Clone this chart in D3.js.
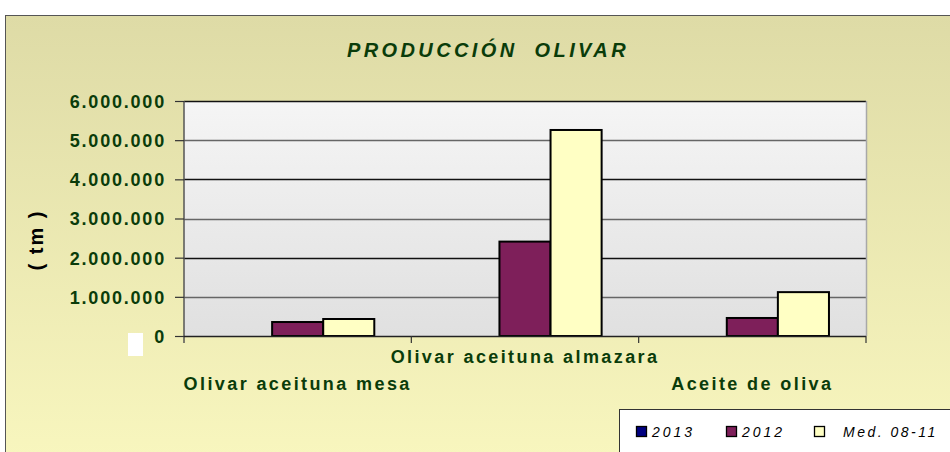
<!DOCTYPE html>
<html lang="es">
<head>
<meta charset="UTF-8">
<title>Producción olivar</title>
<style>
  body { margin: 0; background: #fff; }
  svg { display: block; font-family: "Liberation Sans", Arial, sans-serif; }
</style>
</head>
<body>
<svg width="950" height="452"></svg>
<script src="https://d3js.org/d3.v7.min.js"></script>
<script>
// datos
const categories = ["Olivar aceituna mesa", "Olivar aceituna almazara", "Aceite de oliva"];
const seriesNames = ["2013", "2012", "Med. 08-11"];
const values2013 = [null, null, null];
const values2012 = [357000, 2410000, 460000];
const valuesMed = [434000, 5260000, 1120000];
const yTicks = [0, 1000000, 2000000, 3000000, 4000000, 5000000, 6000000];
const colors = ["#000080", "#7e1f5a", "#ffffc4"];

const seriesValues = [values2013, values2012, valuesMed];
const green = "#0a3c0a";

const svg = d3.select("svg");
const defs = svg.append("defs");

const bg = defs.append("linearGradient").attr("id", "bg")
  .attr("x1", 0).attr("y1", 0).attr("x2", 0).attr("y2", 1);
bg.append("stop").attr("offset", "0%").attr("stop-color", "#dedba6");
bg.append("stop").attr("offset", "100%").attr("stop-color", "#f9f7bf");

const pg = defs.append("linearGradient").attr("id", "plotbg")
  .attr("x1", 0).attr("y1", 0).attr("x2", 0).attr("y2", 1);
pg.append("stop").attr("offset", "0%").attr("stop-color", "#f5f5f5");
pg.append("stop").attr("offset", "100%").attr("stop-color", "#e0e0e0");

// marco exterior
svg.append("rect")
  .attr("x", 5.5).attr("y", 15.5).attr("width", 960).attr("height", 460)
  .attr("fill", "url(#bg)").attr("stroke", "#555").attr("stroke-width", 1);

const plot = { left: 184, right: 866, top: 101, bottom: 336 };

const x = d3.scaleBand().domain(categories).range([plot.left, plot.right]);
const xs = d3.scaleBand().domain(seriesNames).range([0, x.bandwidth()])
  .paddingInner(0).paddingOuter(0.725);
const y = d3.scaleLinear().domain([0, 6000000]).range([plot.bottom, plot.top]);

const locale = d3.formatLocale({ decimal: ",", thousands: ".", grouping: [3], currency: ["", ""] });
const fmt = locale.format(",d");

// fondo del área
svg.append("rect")
  .attr("x", plot.left).attr("y", plot.top)
  .attr("width", plot.right - plot.left).attr("height", plot.bottom - plot.top)
  .attr("fill", "url(#plotbg)");

// rejilla
svg.append("g").selectAll("line")
  .data(yTicks.filter(d => d > 0))
  .join("line")
  .attr("x1", plot.left).attr("x2", plot.right)
  .attr("y1", d => Math.round(y(d)) + 0.5).attr("y2", d => Math.round(y(d)) + 0.5)
  .attr("stroke", (d, i) => i % 2 === 1 ? "#111" : "#666")
  .attr("stroke-width", 1.5);

// borde derecho
svg.append("line")
  .attr("x1", plot.right + 0.5).attr("x2", plot.right + 0.5)
  .attr("y1", plot.top).attr("y2", plot.bottom)
  .attr("stroke", "#a8a8a8").attr("stroke-width", 1.5);

// barras
const groups = svg.append("g").selectAll("g")
  .data(categories)
  .join("g")
  .attr("transform", d => `translate(${x(d)},0)`);

groups.selectAll("rect")
  .data((c, ci) => seriesNames.map((s, si) => ({ s, v: seriesValues[si][ci], si })))
  .join("rect")
  .filter(d => d.v != null)
  .attr("x", d => xs(d.s))
  .attr("y", d => y(d.v))
  .attr("width", xs.bandwidth())
  .attr("height", d => y(0) - y(d.v))
  .attr("fill", d => colors[d.si])
  .attr("stroke", "#000")
  .attr("stroke-width", 2);

// eje Y
const yAxis = svg.append("g")
  .attr("transform", `translate(${plot.left},0)`)
  .call(d3.axisLeft(y).tickValues(yTicks).tickFormat(fmt).tickSize(9).tickPadding(9));
yAxis.select(".domain").attr("stroke", "#555").attr("stroke-width", 1.5)
  .attr("d", `M0,${plot.top}V${plot.bottom + 7}`);
yAxis.selectAll(".tick line").attr("stroke", "#333").attr("stroke-width", 1.2);
yAxis.selectAll(".tick text")
  .attr("fill", green).attr("font-size", 18).attr("font-weight", "bold")
  .attr("dy", "0.36em")
  .style("letter-spacing", "1.8px");

// eje X
const xAxis = svg.append("g").attr("transform", `translate(0,${plot.bottom})`);
xAxis.append("line")
  .attr("x1", plot.left).attr("x2", plot.right)
  .attr("y1", 0.5).attr("y2", 0.5)
  .attr("stroke", "#222").attr("stroke-width", 1.5);
xAxis.selectAll(".xt")
  .data(categories.map(c => x(c) + x.bandwidth()))
  .join("line")
  .attr("x1", d => d).attr("x2", d => d)
  .attr("y1", 0).attr("y2", 7)
  .attr("stroke", "#333").attr("stroke-width", 1.2);

svg.append("g").selectAll("text")
  .data(categories)
  .join("text")
  .attr("x", d => x(d) + x.bandwidth() / 2)
  .attr("y", (d, i) => i % 2 === 1 ? 363 : 390)
  .attr("text-anchor", "middle")
  .attr("fill", green).attr("font-size", 18).attr("font-weight", "bold")
  .style("letter-spacing", "2.4px")
  .text(d => d);

// título
svg.append("text")
  .attr("x", 488).attr("y", 57)
  .attr("text-anchor", "middle")
  .attr("fill", green).attr("font-size", 20).attr("font-weight", "bold")
  .attr("font-style", "italic")
  .style("letter-spacing", "3.4px")
  .style("word-spacing", "8px")
  .text("PRODUCCIÓN OLIVAR");

// título eje Y
svg.append("text")
  .attr("transform", "translate(43,240) rotate(-90)")
  .attr("text-anchor", "middle")
  .attr("fill", "#000").attr("font-size", 20).attr("font-weight", "bold")
  .style("letter-spacing", "2px")
  .text("( tm )");

// recuadro blanco
svg.append("rect")
  .attr("x", 128).attr("y", 333).attr("width", 15).attr("height", 23)
  .attr("fill", "#fff");

// leyenda
const legend = svg.append("g");
legend.append("rect")
  .attr("x", 619.5).attr("y", 409.5).attr("width", 340).attr("height", 60)
  .attr("fill", "#fff").attr("stroke", "#333").attr("stroke-width", 1);

const legendX = [636, 726, 814];
const legendTextX = [652, 742, 843];
seriesNames.forEach((s, i) => {
  legend.append("rect")
    .attr("x", legendX[i] + 0.5).attr("y", 426.5).attr("width", 10).attr("height", 10)
    .attr("fill", colors[i]).attr("stroke", "#000").attr("stroke-width", 1.3);
  legend.append("text")
    .attr("x", legendTextX[i]).attr("y", 437)
    .attr("fill", "#000").attr("font-size", 14).attr("font-style", "italic")
    .style("letter-spacing", i < 2 ? "3px" : "2.5px")
    .text(s);
});
</script>
</body>
</html>
